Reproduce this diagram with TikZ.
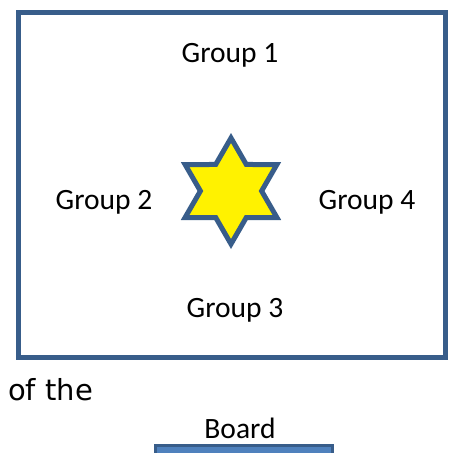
\documentclass[tikz,border=0pt]{standalone}
\usepackage{fontspec}
\setmainfont{Carlito}
\newfontfamily\wideface{DejaVu Sans}
\definecolor{rimblue}{RGB}{56, 93, 138}
\definecolor{barblue}{RGB}{79, 129, 189}
\usetikzlibrary{shapes.geometric}

\begin{document}
\begin{tikzpicture}[
    x=1pt, y=-1pt,
    frame/.style={draw=rimblue, line width=5pt},
    label/.style={font=\fontsize{29.5}{33}\selectfont, inner sep=0pt},
    sixstar/.style={star, star points=6, star point ratio=1.732, minimum size=106pt,
        inner sep=0pt, draw=rimblue, line width=5pt, fill=yellow}
]
\path[use as bounding box] (0,0) rectangle (453,453);
\clip (0,0) rectangle (453,453);

% Room
\draw[frame] (18,12) rectangle (445,357);

% Teacher in the middle
\node[sixstar] (centre) at (231,191) {};

% Groups
\node[label] (g1) at (230,55) {Group 1};
\node[label] (g2) at (104,202) {Group 2};
\node[label] (g4) at (367,202) {Group 4};
\node[label] (g3) at (235,310) {Group 3};

% Front
\node[label, font=\wideface\fontsize{29}{33}\selectfont, anchor=west] (ofthe) at (8,390) {of the};
\node[label] (board) at (240,428) {Board};
\draw[draw=rimblue, fill=barblue, line width=3pt] (155,445) rectangle (332,470);

\end{tikzpicture}
\end{document}
